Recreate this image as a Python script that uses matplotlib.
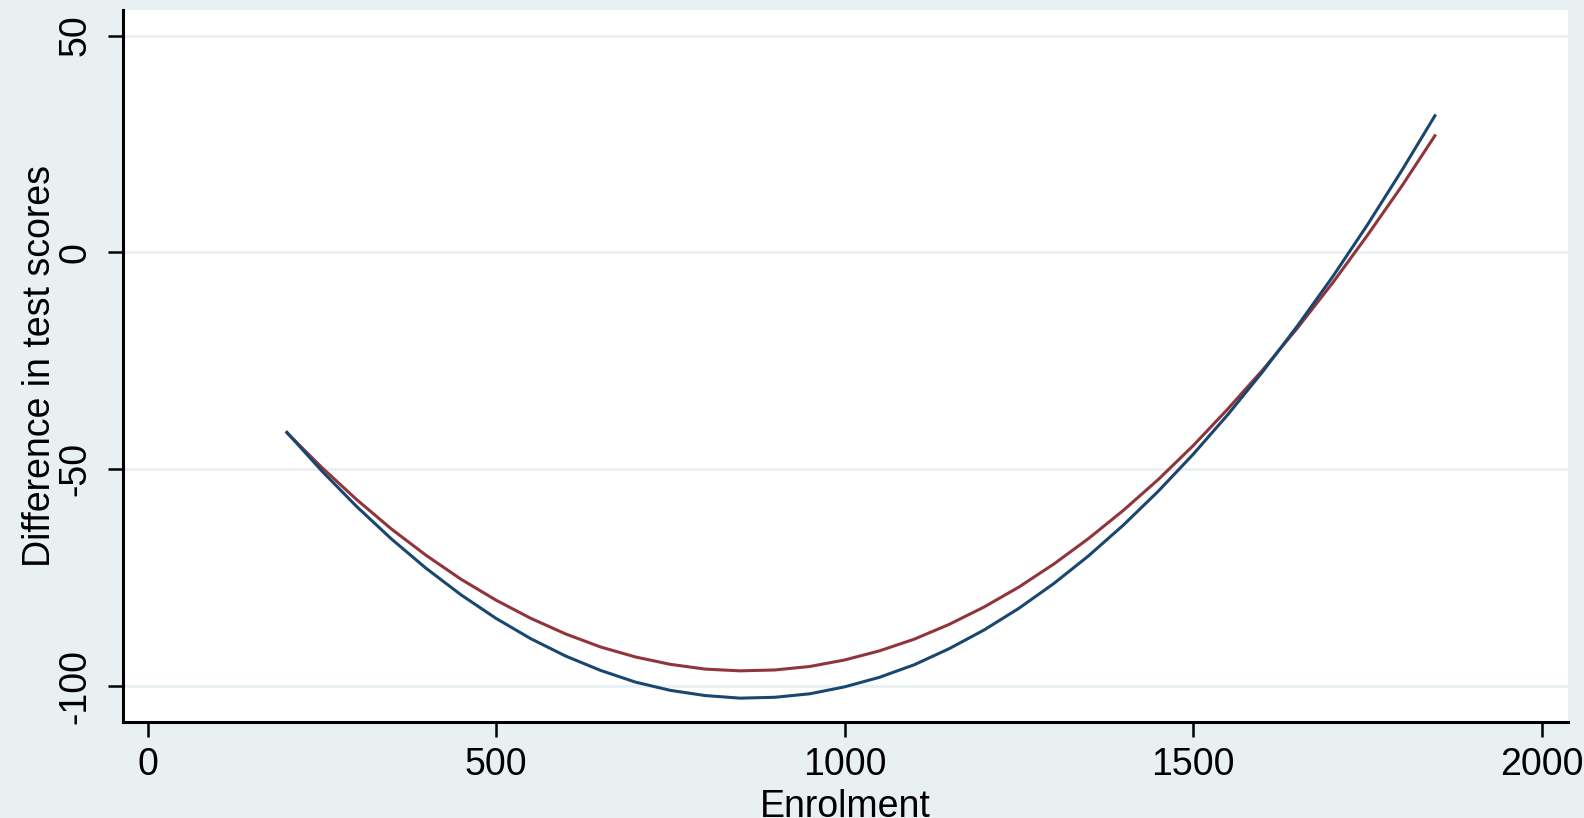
import matplotlib
matplotlib.use("Agg")
import matplotlib.pyplot as plt

plt.rcParams['font.family'] = ['Liberation Sans', 'DejaVu Sans']

enrolment = [200, 250, 300, 350, 400, 450, 500, 550, 600, 650, 700, 750, 800, 850,
             900, 950, 1000, 1050, 1100, 1150, 1200, 1250, 1300, 1350, 1400, 1450,
             1500, 1550, 1600, 1650, 1700, 1750, 1800, 1847]
diff_blue = [-41.5, -50.4, -58.6, -66.1, -72.9, -79.0, -84.4, -89.1, -93.1, -96.4,
             -99.1, -101.0, -102.2, -102.8, -102.6, -101.8, -100.2, -98.0, -95.1,
             -91.4, -87.1, -82.1, -76.4, -70.0, -62.9, -55.1, -46.6, -37.4, -27.5,
             -16.9, -5.7, 6.3, 19.0, 31.5]
diff_red = [-41.6, -49.6, -57.0, -63.8, -69.9, -75.4, -80.2, -84.4, -88.0, -91.0,
            -93.3, -95.0, -96.1, -96.5, -96.3, -95.5, -94.0, -91.9, -89.2, -85.8,
            -81.8, -77.2, -71.9, -66.0, -59.5, -52.4, -44.6, -36.1, -27.1, -17.4,
            -7.1, 3.9, 15.4, 26.9]
xticks = [0, 500, 1000, 1500, 2000]
yticks = [-100, -50, 0, 50]

bg = '#E8F0F2'
fs = 27
fig = plt.figure(figsize=(15.84, 8.18), dpi=100, facecolor=bg)
ax = fig.add_axes([123/1584, 1 - 722/818, (1568-123)/1584, (722-10)/818])
ax.set_facecolor('white')

for y in yticks:
    ax.axhline(y, color=bg, lw=2.0, zorder=1)

ax.plot(enrolment, diff_red, color='#90353B', lw=2.2, zorder=3)
ax.plot(enrolment, diff_blue, color='#1A476F', lw=2.2, zorder=3)

ax.set_xlim(-35.2, 2038)
ax.set_ylim(-108.3, 55.9)
ax.set_xticks(xticks)
ax.set_yticks(yticks)
ax.set_xticklabels([str(v) for v in xticks])
ax.set_yticklabels([str(v) for v in yticks], rotation=90, va='center')

for s in ['top', 'right']:
    ax.spines[s].set_visible(False)
for s in ['left', 'bottom']:
    ax.spines[s].set_linewidth(2.2)
    ax.spines[s].set_color('black')

ax.tick_params(axis='both', direction='out', length=11, width=1.8, labelsize=fs,
               colors='black')
ax.tick_params(axis='y', pad=10)
ax.tick_params(axis='x', pad=7)

ax.set_xlabel('Enrolment', fontsize=fs, labelpad=4)
ax.set_ylabel('Difference in test scores', fontsize=fs, labelpad=0)

fig.savefig('out.png', dpi=100, facecolor=bg)
